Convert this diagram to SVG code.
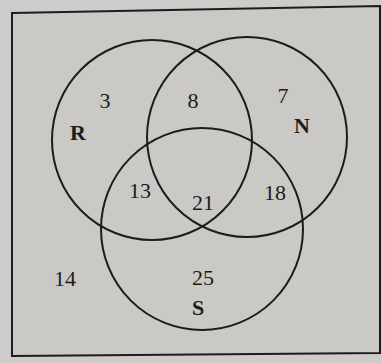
<svg xmlns="http://www.w3.org/2000/svg" width="382" height="363" viewBox="0 0 382 363">
<style>
.c{fill:none;stroke:#1c1c1c;stroke-width:2}
.n{font-family:"Liberation Serif",serif;font-size:22px;fill:#1c1c1c;text-anchor:middle;dominant-baseline:central}
.l{font-family:"Liberation Serif",serif;font-size:22px;font-weight:bold;fill:#1c1c1c;text-anchor:middle;dominant-baseline:central}
</style>
<rect x="0" y="0" width="382" height="363" fill="#cecccb"/>
<g id="frame"><polygon points="12,13 380,6 380,353 12,356" fill="#cbc9c6" stroke="#1c1c1c" stroke-width="2"/></g>
<g id="R"><circle class="c" cx="152" cy="140" r="100"/><text class="l" x="78" y="132">R</text><text class="n" x="105" y="100">3</text></g>
<g id="N"><circle class="c" cx="247" cy="137" r="100"/><text class="l" x="302" y="125">N</text><text class="n" x="283" y="95">7</text></g>
<g id="S"><circle class="c" cx="202" cy="229" r="101"/><text class="l" x="198" y="307">S</text><text class="n" x="203" y="277">25</text></g>
<g id="regions">
<text class="n" x="193" y="100">8</text>
<text class="n" x="140" y="190">13</text>
<text class="n" x="203" y="202">21</text>
<text class="n" x="275" y="192">18</text>
<text class="n" x="65" y="278">14</text>
</g>
</svg>
